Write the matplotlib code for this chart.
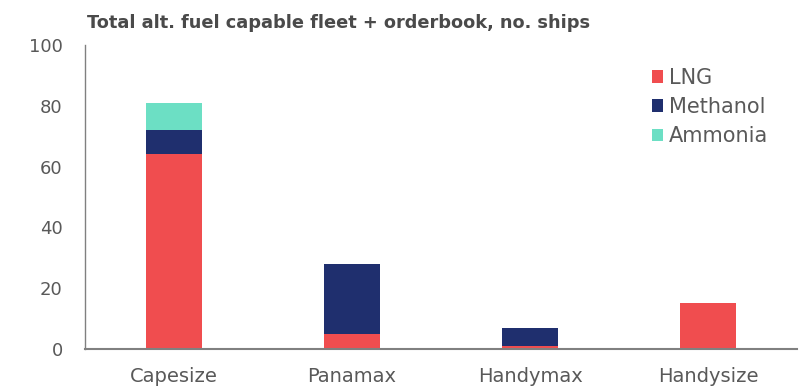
import numpy as np
import matplotlib.pyplot as plt

# ship classes and alt. fuel counts (fleet + orderbook)
categories = ["Capesize", "Panamax", "Handymax", "Handysize"]
lng = [64, 5, 1, 15]
methanol = [8, 23, 6, 0]
ammonia = [9, 0, 0, 0]

col_lng = "#F04D4F"
col_meth = "#1F2F6E"
col_amm = "#6CDFC4"

plt.rcParams['font.family'] = ['DejaVu Sans']

fig = plt.figure(figsize=(8.11, 3.91), dpi=100)
ax = fig.add_axes([85/811, 1 - 349/391, 712/811, 304/391])

x = np.arange(len(categories))
w = 0.315
b1 = np.array(lng)
b2 = b1 + np.array(methanol)
ax.bar(x, lng, w, color=col_lng, label="LNG")
ax.bar(x, methanol, w, bottom=b1, color=col_meth, label="Methanol")
ax.bar(x, ammonia, w, bottom=b2, color=col_amm, label="Ammonia")

ax.set_xlim(-0.5, 3.5)
ax.set_ylim(0, 100)
ax.set_yticks(range(0, 101, 20))
ax.set_xticks(x)
ax.set_xticklabels(categories)
ax.tick_params(axis='both', length=0, colors="#595959")
ax.tick_params(axis='x', pad=13, labelsize=14)
ax.tick_params(axis='y', pad=16, labelsize=13)

for s in ["top", "right"]:
    ax.spines[s].set_visible(False)
ax.spines["left"].set_color("#808080")
ax.spines["left"].set_linewidth(1.0)
ax.spines["bottom"].set_color("#808080")
ax.spines["bottom"].set_linewidth(1.5)

fig.text(87/811, 1 - 23/391, "Total alt. fuel capable fleet + orderbook, no. ships",
         fontsize=12.8, fontweight="bold", color="#4a4a4a", va="center")

leg = ax.legend(loc="upper left", bbox_to_anchor=(0.784, 0.952), frameon=False,
                fontsize=15, handlelength=0.55, handleheight=0.55,
                handletextpad=0.3, labelspacing=0.44, borderaxespad=0)
for t in leg.get_texts():
    t.set_color("#595959")

fig.savefig("out.png", dpi=100)
